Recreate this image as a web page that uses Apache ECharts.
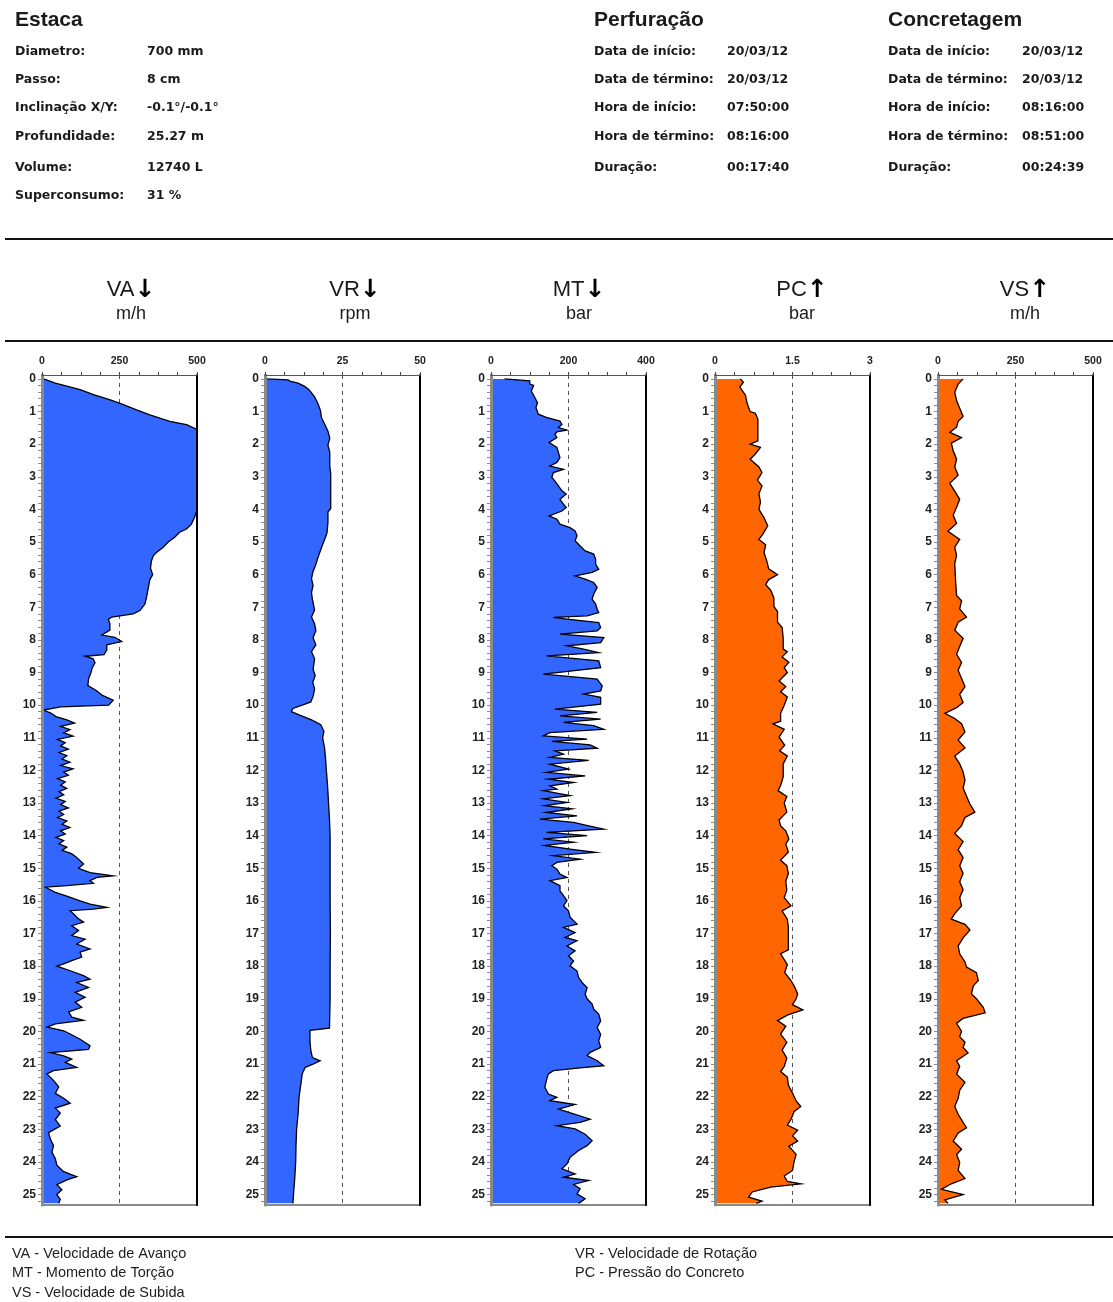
<!DOCTYPE html>
<html><head><meta charset="utf-8">
<script src="https://cdn.jsdelivr.net/npm/echarts@6/dist/echarts.min.js"></script>
<style>html,body{margin:0;padding:0;background:#fff}#c{width:1113px;height:1302px}</style>
</head><body><div id="c"></div>
<script>
// ---------- header data ----------
const estacaLabels = ['Diametro:', 'Passo:', 'Inclinação X/Y:', 'Profundidade:', 'Volume:', 'Superconsumo:'];
const estacaValues = ['700 mm', '8 cm', '-0.1°/-0.1°', '25.27 m', '12740 L', '31 %'];
const perfLabels = ['Data de início:', 'Data de término:', 'Hora de início:', 'Hora de término:', 'Duração:'];
const perfValues = ['20/03/12', '20/03/12', '07:50:00', '08:16:00', '00:17:40'];
const concLabels = ['Data de início:', 'Data de término:', 'Hora de início:', 'Hora de término:', 'Duração:'];
const concValues = ['20/03/12', '20/03/12', '08:16:00', '08:51:00', '00:24:39'];
const legendLeft = ['VA - Velocidade de Avanço', 'MT - Momento de Torção', 'VS - Velocidade de Subida'];
const legendRight = ['VR - Velocidade de Rotação', 'PC - Pressão do Concreto'];

// ---------- chart data ----------
const seriesNames = ['VA', 'VR', 'MT', 'PC', 'VS'];
const seriesArrows = ['↓', '↓', '↓', '↑', '↑'];
const seriesUnits = ['m/h', 'rpm', 'bar', 'bar', 'm/h'];
const axisMax = [500, 50, 400, 3, 500];
const depthLabels = [0,1,2,3,4,5,6,7,8,9,10,11,12,13,14,15,16,17,18,19,20,21,22,23,24,25];

// each point: [depth (m), value]
const vaPoints = [[0,5],[0.13,43],[0.33,123],[0.48,166],[0.64,220],[0.75,252],[0.95,305],[1.1,348],[1.3,412],[1.4,466],[1.55,500],[4.03,500],[4.24,492],[4.45,482],[4.6,466],[4.7,444],[4.85,428],[5.0,407],[5.16,391],[5.32,369],[5.42,359],[5.58,353],[5.8,350],[6.0,357],[6.15,348],[6.4,343],[6.7,337],[6.9,332],[7.1,316],[7.2,294],[7.3,225],[7.37,214],[7.5,219],[7.7,219],[7.85,193],[7.92,235],[8.05,257],[8.15,209],[8.3,209],[8.45,200],[8.5,139],[8.58,165],[8.7,171],[8.85,162],[9.0,158],[9.2,150],[9.4,148],[9.55,175],[9.7,195],[9.85,230],[10.0,215],[10.05,60],[10.15,5],[10.25,30],[10.35,45],[10.45,80],[10.55,105],[10.65,60],[10.75,90],[10.85,70],[10.95,100],[11.05,50],[11.15,75],[11.25,60],[11.35,85],[11.45,55],[11.55,80],[11.65,65],[11.75,90],[11.85,60],[11.95,100],[12.05,70],[12.15,85],[12.25,50],[12.35,75],[12.45,60],[12.55,80],[12.65,55],[12.75,70],[12.85,45],[12.95,75],[13.05,60],[13.15,85],[13.25,55],[13.35,70],[13.45,50],[13.55,80],[13.65,65],[13.75,90],[13.85,60],[13.95,75],[14.05,45],[14.15,70],[14.25,55],[14.35,80],[14.45,65],[14.55,95],[14.65,110],[14.77,123],[14.87,134],[15.0,118],[15.13,155],[15.23,230],[15.28,177],[15.38,155],[15.46,166],[15.53,80],[15.58,11],[15.74,43],[15.85,80],[16.0,123],[16.1,155],[16.2,209],[16.25,166],[16.3,91],[16.4,102],[16.55,118],[16.65,134],[16.76,96],[16.91,118],[17.06,96],[17.17,139],[17.32,112],[17.47,155],[17.57,123],[17.72,128],[17.83,96],[17.93,70],[18.0,48],[18.14,91],[18.29,134],[18.4,155],[18.5,112],[18.65,150],[18.8,107],[18.95,139],[19.1,107],[19.26,128],[19.4,86],[19.56,96],[19.66,134],[19.77,43],[19.87,16],[19.98,70],[20.08,91],[20.24,123],[20.34,139],[20.44,155],[20.55,150],[20.65,27],[20.75,70],[20.85,96],[20.95,75],[21.1,112],[21.2,37],[21.3,16],[21.5,37],[21.7,54],[21.9,43],[22.05,70],[22.2,91],[22.35,43],[22.5,59],[22.7,43],[22.9,59],[23.1,21],[23.3,27],[23.5,37],[23.7,32],[23.9,43],[24.1,48],[24.3,70],[24.45,112],[24.55,80],[24.7,48],[24.85,64],[25.0,48],[25.15,59],[25.27,54]];

const vrPoints = [[0,0.5],[0.03,7.5],[0.07,8],[0.13,10.7],[0.23,12.8],[0.33,14.2],[0.55,16],[0.76,17.1],[0.97,17.9],[1.18,18.2],[1.4,19.3],[1.6,20.3],[1.82,20.9],[2.03,20.3],[2.25,20.9],[2.68,20.9],[2.9,21.2],[3.97,21.2],[4.08,20.3],[4.4,20.3],[4.72,20],[4.83,19.6],[5.05,18.7],[5.26,17.9],[5.47,17.1],[5.69,16.4],[5.9,15.5],[6.12,15],[6.33,15.5],[6.55,15],[6.76,15.3],[7.08,16],[7.3,15],[7.5,16],[7.72,16.4],[7.93,15.5],[8.15,16.4],[8.36,15],[8.58,16],[8.9,15.5],[9.1,16.2],[9.3,15.4],[9.5,16],[9.7,15.6],[9.9,14.8],[10.0,12],[10.1,9],[10.2,8.5],[10.3,11],[10.45,15],[10.6,18],[10.8,19],[11.0,18.6],[11.3,19.2],[11.6,19.5],[12.0,19.8],[12.5,20.2],[13.0,20.5],[13.5,20.8],[14.0,21],[15.0,21],[16.0,21],[17.0,21.1],[18.0,21],[19.0,21],[19.9,20.8],[19.97,14.5],[20.3,14.5],[20.6,14.8],[20.8,15.3],[20.9,17.8],[21.0,15.5],[21.1,13],[21.3,12],[21.6,11.6],[22.0,11],[22.5,10.7],[23.0,10.2],[23.5,10],[24.0,9.9],[24.5,9.6],[25.0,9.2],[25.27,9]];

const mtPoints = [[0,35],[0.06,100],[0.16,100],[0.2,110],[0.37,104],[0.57,113],[0.73,120],[0.88,116],[1.08,122],[1.18,143],[1.29,178],[1.39,183],[1.49,174],[1.57,196],[1.62,170],[1.7,165],[1.8,170],[1.95,150],[2.1,170],[2.26,174],[2.41,178],[2.56,170],[2.67,152],[2.77,187],[2.87,161],[3.02,157],[3.13,165],[3.28,174],[3.43,183],[3.53,194],[3.69,178],[3.84,187],[3.94,194],[4.05,183],[4.2,150],[4.3,170],[4.45,178],[4.56,204],[4.66,217],[4.81,222],[4.96,217],[5.12,230],[5.27,243],[5.37,265],[5.53,270],[5.68,270],[5.83,278],[5.93,261],[6.04,217],[6.14,243],[6.24,265],[6.39,274],[6.6,265],[6.75,261],[6.9,270],[7.06,274],[7.16,278],[7.26,248],[7.31,161],[7.36,196],[7.47,278],[7.62,283],[7.72,274],[7.82,178],[7.93,291],[8.08,283],[8.18,196],[8.28,239],[8.39,278],[8.49,143],[8.56,204],[8.64,278],[8.85,283],[9.05,135],[9.13,213],[9.2,274],[9.41,287],[9.56,283],[9.66,239],[9.76,283],[9.97,283],[10.12,165],[10.22,274],[10.33,178],[10.43,283],[10.53,187],[10.63,265],[10.74,291],[10.84,152],[10.94,135],[11.04,248],[11.11,157],[11.22,256],[11.32,274],[11.4,165],[11.5,187],[11.6,152],[11.69,252],[11.81,152],[11.96,200],[12.06,143],[12.17,243],[12.27,148],[12.37,213],[12.47,152],[12.57,170],[12.62,135],[12.77,204],[12.87,135],[12.98,196],[13.08,139],[13.18,209],[13.29,143],[13.39,222],[13.49,126],[13.59,213],[13.7,252],[13.8,291],[13.9,143],[14.0,248],[14.1,135],[14.2,213],[14.3,139],[14.41,204],[14.51,270],[14.61,161],[14.72,230],[14.82,170],[14.92,157],[15.03,170],[15.18,178],[15.28,196],[15.38,152],[15.53,178],[15.69,178],[15.84,187],[15.99,196],[16.15,187],[16.3,200],[16.5,204],[16.71,222],[16.81,187],[16.97,217],[17.12,191],[17.22,222],[17.38,196],[17.53,217],[17.68,200],[17.84,213],[17.99,204],[18.15,222],[18.35,226],[18.5,235],[18.66,248],[18.86,243],[19.0,248],[19.16,261],[19.32,265],[19.47,278],[19.68,283],[19.88,274],[20.09,283],[20.29,278],[20.49,283],[20.64,256],[20.74,248],[20.9,274],[21.05,291],[21.12,230],[21.2,161],[21.3,148],[21.5,143],[21.71,139],[21.92,148],[22.02,170],[22.12,152],[22.24,217],[22.38,174],[22.53,213],[22.69,256],[22.79,230],[22.89,170],[22.99,217],[23.15,243],[23.35,261],[23.5,248],[23.65,226],[23.86,204],[24.06,196],[24.21,183],[24.37,217],[24.47,187],[24.57,252],[24.69,213],[24.82,230],[24.98,222],[25.13,243],[25.27,226]];

const pcPoints = [[0,0.49],[0.1,0.55],[0.25,0.48],[0.5,0.59],[0.74,0.62],[1.0,0.68],[1.05,0.78],[1.23,0.83],[1.9,0.83],[2.0,0.68],[2.1,0.88],[2.3,0.78],[2.46,0.68],[2.7,0.85],[2.87,0.91],[3.1,0.82],[3.28,0.91],[3.52,0.85],[3.77,0.88],[4.0,0.85],[4.26,0.95],[4.5,1.02],[4.75,0.93],[4.92,0.85],[5.08,0.98],[5.33,0.95],[5.57,1.0],[5.82,1.04],[6.0,1.21],[6.15,1.04],[6.31,0.98],[6.48,1.08],[6.72,1.14],[6.97,1.14],[7.13,1.21],[7.46,1.21],[7.62,1.3],[7.95,1.32],[8.28,1.32],[8.36,1.4],[8.52,1.3],[8.69,1.43],[8.85,1.34],[9.0,1.4],[9.26,1.24],[9.43,1.37],[9.59,1.27],[9.75,1.4],[10.0,1.34],[10.25,1.27],[10.49,1.27],[10.57,1.12],[10.74,1.34],[10.98,1.24],[11.23,1.35],[11.4,1.25],[11.56,1.4],[11.8,1.32],[12.2,1.32],[12.46,1.27],[12.62,1.22],[12.8,1.39],[13.0,1.34],[13.28,1.39],[13.52,1.24],[13.7,1.27],[13.85,1.37],[14.1,1.43],[14.26,1.37],[14.5,1.42],[14.75,1.27],[14.92,1.39],[15.16,1.42],[15.4,1.37],[15.66,1.39],[15.9,1.34],[16.15,1.47],[16.31,1.3],[16.56,1.4],[16.8,1.42],[17.5,1.42],[17.62,1.27],[17.8,1.34],[17.95,1.4],[18.2,1.35],[18.44,1.47],[18.6,1.53],[18.85,1.6],[19.0,1.57],[19.18,1.5],[19.34,1.7],[19.5,1.4],[19.67,1.21],[19.84,1.37],[20.08,1.27],[20.33,1.39],[20.57,1.3],[20.82,1.39],[21.07,1.34],[21.23,1.27],[21.4,1.4],[21.64,1.42],[21.89,1.5],[22.13,1.57],[22.3,1.66],[22.46,1.53],[22.7,1.47],[22.87,1.4],[23.03,1.6],[23.2,1.5],[23.36,1.6],[23.52,1.43],[23.77,1.57],[24.0,1.53],[24.26,1.5],[24.43,1.34],[24.6,1.4],[24.67,1.66],[24.77,1.08],[24.92,0.72],[25.08,0.65],[25.2,0.91],[25.27,0.8]];

const vsPoints = [[0,81],[0.16,65],[0.41,54],[0.66,60],[0.9,70],[1.15,81],[1.3,65],[1.48,60],[1.64,38],[1.8,76],[1.97,43],[2.2,49],[2.46,60],[2.7,54],[2.95,65],[3.2,38],[3.44,54],[3.69,70],[3.93,60],[4.18,49],[4.43,60],[4.67,32],[4.92,70],[5.16,54],[5.41,60],[5.66,54],[6.23,57],[6.64,60],[6.8,76],[7.05,70],[7.3,92],[7.46,65],[7.7,54],[7.95,81],[8.2,70],[8.44,60],[8.69,76],[8.93,65],[9.18,76],[9.43,87],[9.67,70],[9.92,81],[10.08,60],[10.25,22],[10.41,54],[10.57,76],[10.82,87],[11.07,65],[11.31,87],[11.56,54],[11.8,70],[12.05,81],[12.3,87],[12.54,81],[12.79,92],[13.03,103],[13.28,119],[13.44,87],[13.69,76],[13.93,54],[14.18,81],[14.43,65],[14.67,81],[14.92,70],[15.16,81],[15.41,70],[15.66,81],[15.9,70],[16.15,76],[16.39,54],[16.56,43],[16.72,87],[16.89,103],[17.13,81],[17.38,65],[17.62,70],[17.87,87],[18.03,92],[18.2,124],[18.44,130],[18.6,114],[18.85,108],[19.0,124],[19.26,146],[19.43,152],[19.6,81],[19.75,60],[20.0,76],[20.16,70],[20.33,87],[20.49,81],[20.66,97],[20.9,60],[21.07,70],[21.31,60],[21.56,87],[21.8,70],[22.05,65],[22.3,54],[22.54,65],[22.79,81],[22.95,92],[23.11,65],[23.36,49],[23.61,76],[23.77,60],[24.02,70],[24.26,65],[24.51,87],[24.67,43],[24.84,11],[25.0,81],[25.16,22],[25.27,32]];

const seriesPoints = [vaPoints, vrPoints, mtPoints, pcPoints, vsPoints];
const seriesColors = ['#3366ff', '#3366ff', '#3366ff', '#ff6600', '#ff6600'];

// ---------- layout ----------
const gridLefts = [42, 265, 491, 715, 938];
const gridTop = 375, gridWidth = 155, gridHeight = 830;
const titleCenters = [131, 355, 579, 802, 1025];
const depthMin = -0.12, depthMax = 25.32;

const depthTicks = [];
for (let k = 0; k <= 126; k++) depthTicks.push(Math.round(k * 2) / 10);

const grids = [], xAxes = [], yAxes = [], series = [];
seriesNames.forEach((name, i) => {
  const max = axisMax[i];
  grids.push({ left: gridLefts[i], top: gridTop, width: gridWidth, height: gridHeight, containLabel: false });
  xAxes.push({
    gridIndex: i, type: 'value', position: 'top', min: 0, max: max, interval: max / 8, z: 5,
    axisLine: { show: true, onZero: false, lineStyle: { color: '#555', width: 1 } },
    axisTick: { show: true, length: 3, lineStyle: { color: '#444', width: 1 } },
    axisLabel: {
      show: true, margin: 8, fontSize: 10.5, fontWeight: 'bold', color: '#222', fontFamily: 'Liberation Sans',
      formatter: v => (Math.abs(v) < 1e-9 || Math.abs(v - max / 2) < 1e-9 || Math.abs(v - max) < 1e-9) ? String(+v.toFixed(3)) : ''
    },
    splitLine: { show: false }
  });
  xAxes.push({
    gridIndex: i, type: 'value', position: 'bottom', min: 0, max: max, interval: max / 2, z: 0,
    axisLine: { show: true, onZero: false, lineStyle: { color: '#8a8a8a', width: 2 } },
    axisTick: { show: false }, axisLabel: { show: false },
    splitLine: { show: true, lineStyle: { color: '#555', width: 1, type: [4, 4] } }
  });
  yAxes.push({
    gridIndex: i, type: 'value', position: 'left', inverse: true, min: depthMin, max: depthMax, z: 5,
    axisLine: { show: true, onZero: false, lineStyle: { color: '#8a8a8a', width: 3 } },
    axisTick: { show: true, length: 4, customValues: depthTicks, lineStyle: { color: '#8a8a8a', width: 1 } },
    axisLabel: { show: true, customValues: depthLabels, margin: 6, fontSize: 12, fontWeight: 'bold', color: '#222', fontFamily: 'Liberation Sans' },
    splitLine: { show: false }
  });
  yAxes.push({
    gridIndex: i, type: 'value', position: 'right', inverse: true, min: depthMin, max: depthMax, z: 5,
    axisLine: { show: true, onZero: false, lineStyle: { color: '#000', width: 2 } },
    axisTick: { show: false }, axisLabel: { show: false }, splitLine: { show: false }
  });
  const pts = seriesPoints[i];
  const color = seriesColors[i];
  series.push({
    type: 'custom', name: name, xAxisIndex: 2 * i, yAxisIndex: 2 * i, z: 2, silent: true,
    data: [[0, 0]],
    renderItem: function (params, api) {
      const line = pts.map(p => api.coord([Math.min(p[1], max), p[0]]));
      const first = api.coord([0, pts[0][0]]);
      const last = api.coord([0, pts[pts.length - 1][0]]);
      return {
        type: 'group', children: [
          { type: 'polygon', shape: { points: [first].concat(line, [last]) }, style: { fill: color, stroke: null } },
          { type: 'polyline', shape: { points: line }, style: { stroke: '#000', lineWidth: 1.3, fill: null } }
        ]
      };
    }
  });
});

// ---------- graphic texts ----------
const graphics = [];
const textColor = '#1a1a1a';
function txt(text, x, y, font, opts) {
  graphics.push({ type: 'text', x: x, y: y, silent: true,
    style: Object.assign({ text: text, font: font, fill: textColor, align: 'left', verticalAlign: 'middle' }, opts || {}) });
}
const hFont = 'bold 21px "Liberation Sans"';
const rFont = 'bold 12.5px "DejaVu Sans"';
const rowsY6 = [52, 80, 108, 137, 168, 196];
txt('Estaca', 15, 20, hFont);
estacaLabels.forEach((t, k) => { txt(t, 15, rowsY6[k], rFont); txt(estacaValues[k], 147, rowsY6[k], rFont); });
txt('Perfuração', 594, 20, hFont);
perfLabels.forEach((t, k) => { txt(t, 594, rowsY6[k], rFont); txt(perfValues[k], 727, rowsY6[k], rFont); });
txt('Concretagem', 888, 20, hFont);
concLabels.forEach((t, k) => { txt(t, 888, rowsY6[k], rFont); txt(concValues[k], 1022, rowsY6[k], rFont); });

seriesNames.forEach((name, i) => {
  graphics.push({ type: 'text', x: titleCenters[i], y: 290, silent: true,
    style: { text: '{t|' + name + '}{a|' + seriesArrows[i] + '}', align: 'center', verticalAlign: 'middle',
      rich: { t: { font: '22px "Liberation Sans"', fill: textColor }, a: { font: 'bold 25px "DejaVu Sans"', fill: '#000' } } } });
  txt(seriesUnits[i], titleCenters[i], 314, '18px "Liberation Sans"', { align: 'center' });
});

const lFont = '14.5px "Liberation Sans"';
[1254, 1273, 1293].forEach((y, k) => txt(legendLeft[k], 12, y, lFont, { fill: '#222' }));
[1254, 1273].forEach((y, k) => txt(legendRight[k], 575, y, lFont, { fill: '#222' }));

[239, 341, 1237].forEach(y => graphics.push({ type: 'line', silent: true,
  shape: { x1: 5, y1: y, x2: 1113, y2: y }, style: { stroke: '#111', lineWidth: 2 } }));

const chart = echarts.init(document.getElementById('c'), null, { renderer: 'canvas' });
chart.setOption({
  animation: false, backgroundColor: '#fff',
  grid: grids, xAxis: xAxes, yAxis: yAxes, series: series, graphic: graphics
});
</script></body></html>
